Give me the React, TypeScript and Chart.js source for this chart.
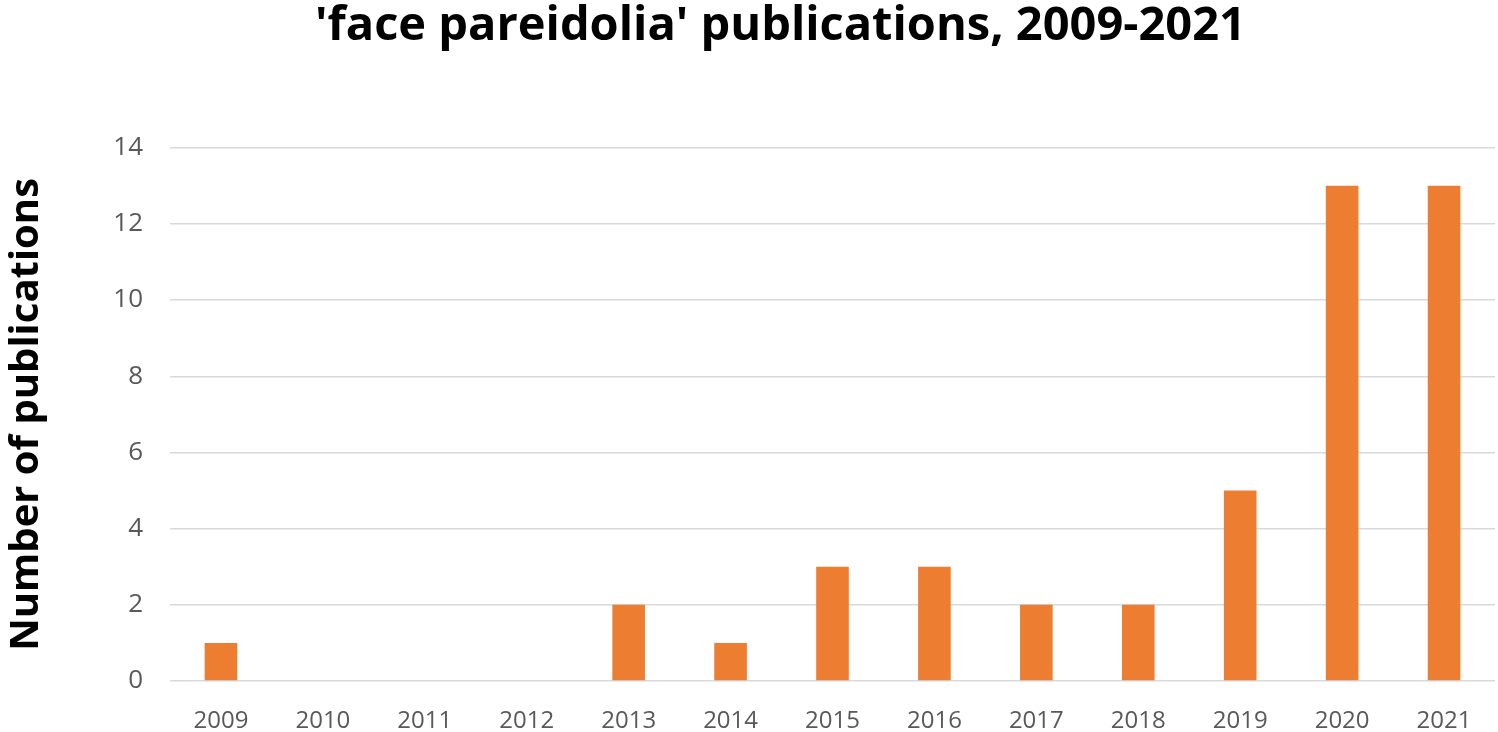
import React, { useEffect, useRef } from "react";
import { Chart, registerables } from "chart.js";

Chart.register(...registerables);

const years = ["2009", "2010", "2011", "2012", "2013", "2014", "2015", "2016", "2017", "2018", "2019", "2020", "2021"];
const publications = [1, 0, 0, 0, 2, 1, 3, 3, 2, 2, 5, 13, 13];
const yTickValues = [0, 2, 4, 6, 8, 10, 12, 14];
const chartTitle = "'face pareidolia' publications, 2009-2021";
const yAxisTitle = "Number of publications";

const FONT = "'Open Sans', 'DejaVu Sans', sans-serif";

export default function App() {
  const ref = useRef<HTMLCanvasElement>(null);

  useEffect(() => {
    const chart = new Chart(ref.current!, {
      type: "bar",
      data: {
        labels: years,
        datasets: [
          {
            data: publications,
            backgroundColor: "#ED7D31",
            borderWidth: 0,
            barPercentage: 0.32,
            categoryPercentage: 1,
          },
        ],
      },
      options: {
        animation: false,
        responsive: false,
        maintainAspectRatio: false,
        layout: { padding: { left: 66, right: 3, top: 0, bottom: 0 } },
        plugins: {
          legend: { display: false },
          tooltip: { enabled: false },
          title: {
            display: true,
            text: chartTitle,
            color: "#000000",
            font: { family: FONT, size: 47, weight: "bold", lineHeight: 1.1 },
            padding: { top: 1, bottom: 95 },
          },
        },
        scales: {
          x: {
            grid: { display: false },
            border: { display: false },
            ticks: {
              color: "#595959",
              font: { family: FONT, size: 24 },
              padding: 18,
              maxRotation: 0,
              autoSkip: false,
            },
            afterFit: (s: any) => {
              s.height = 51;
            },
          },
          y: {
            min: 0,
            max: 14,
            afterBuildTicks: (s: any) => {
              s.ticks = yTickValues.map((v) => ({ value: v }));
            },
            ticks: {
              color: "#595959",
              font: { family: FONT, size: 26 },
              padding: 27,
            },
            grid: { color: "#D9D9D9", lineWidth: 1.5, drawTicks: false },
            border: { display: false },
            title: {
              display: true,
              text: yAxisTitle,
              color: "#000000",
              font: { family: FONT, size: 40, weight: "bold", lineHeight: 1.2 },
              padding: { top: -63, bottom: 0 },
            },
            afterFit: (s: any) => {
              s.width = 104;
            },
          },
        },
      },
    });
    return () => chart.destroy();
  }, []);

  return (
    <div style={{ position: "fixed", left: 0, top: 0, width: 1498, height: 732, background: "#ffffff" }}>
      <canvas ref={ref} width={1498} height={732} style={{ display: "block", width: 1498, height: 732 }} />
    </div>
  );
}
